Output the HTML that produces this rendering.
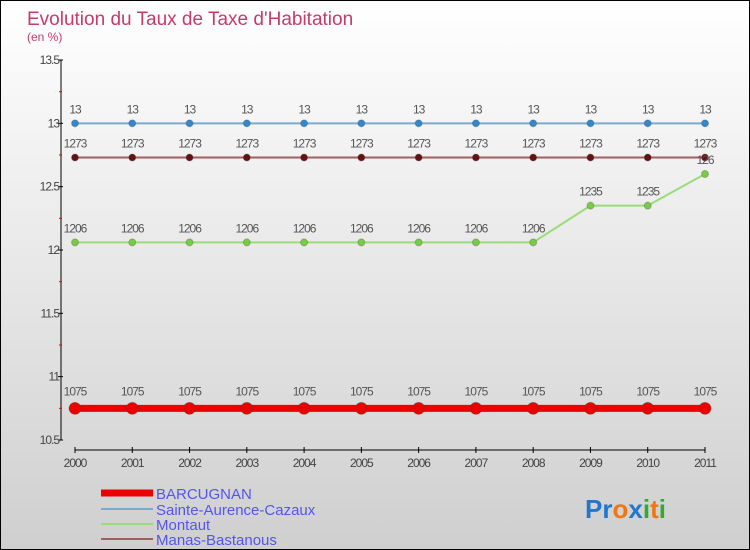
<!DOCTYPE html>
<html><head><meta charset="utf-8"><style>
body{margin:0}
#c{width:748px;height:548px;border:1px solid #000;background:linear-gradient(#ffffff,#cfcfcf);position:relative;overflow:hidden;font-family:"Liberation Sans",sans-serif}
</style></head><body>
<div id="c">
<svg id="s" width="748" height="548" xmlns="http://www.w3.org/2000/svg" style="position:absolute;left:0;top:0">
<text x="26" y="24" font-size="19" fill="#c83a6c">Evolution du Taux de Taxe d'Habitation</text>
<text x="26" y="40" font-size="12" fill="#c83a6c">(en %)</text>
<g id="axes"></g><g id="series"></g>
<g>
<line x1="100" y1="492" x2="152" y2="492" stroke="#ee0000" stroke-width="7"/>
<text x="155" y="498" font-size="15" fill="#5555ee">BARCUGNAN</text>
<line x1="100" y1="508" x2="152" y2="508" stroke="#7aaad0" stroke-width="2"/>
<text x="155" y="514" font-size="15" fill="#5555ee">Sainte-Aurence-Cazaux</text>
<line x1="100" y1="523" x2="152" y2="523" stroke="#99dd77" stroke-width="2"/>
<text x="155" y="529" font-size="15" fill="#5555ee">Montaut</text>
<line x1="100" y1="538" x2="152" y2="538" stroke="#a06060" stroke-width="2"/>
<text x="155" y="544" font-size="15" fill="#5555ee">Manas-Bastanous</text>
</g>
<text x="584" y="517" font-size="26" font-weight="bold"><tspan fill="#2277cc">Pr</tspan><tspan fill="#ee7711">o</tspan><tspan fill="#2277cc">x</tspan><tspan fill="#33aa33">i</tspan><tspan fill="#ee7711">t</tspan><tspan fill="#33aa33">i</tspan></text>
</svg></div>
<script>
const years=["2000","2001","2002","2003","2004","2005","2006","2007","2008","2009","2010","2011"];
const yTicks=[10.5,11,11.5,12,12.5,13,13.5];
const barcugnan=[10.75,10.75,10.75,10.75,10.75,10.75,10.75,10.75,10.75,10.75,10.75,10.75];
const sainte=[13,13,13,13,13,13,13,13,13,13,13,13];
const montaut=[12.06,12.06,12.06,12.06,12.06,12.06,12.06,12.06,12.06,12.35,12.35,12.6];
const manas=[12.73,12.73,12.73,12.73,12.73,12.73,12.73,12.73,12.73,12.73,12.73,12.73];
const NS="http://www.w3.org/2000/svg";
const X=i=>74+i*(630/11);
const Y=v=>59+(13.5-v)*(380/3);
function mk(p,t,a){const e=document.createElementNS(NS,t);for(const k in a)e.setAttribute(k,a[k]);p.appendChild(e);return e;}
const ax=document.getElementById('axes');
let yl=mk(ax,'line',{x1:60,y1:Y(13.5),x2:60,y2:Y(10.5),stroke:'#000'});


yTicks.forEach(v=>{
 mk(ax,'line',{x1:57,y1:Y(v),x2:62,y2:Y(v),stroke:'#000'});
 if(v<13.5)mk(ax,'line',{x1:58,y1:Y(v+0.25),x2:61,y2:Y(v+0.25),stroke:'#e00'});
 const t=mk(ax,'text',{x:58,y:Y(v)+4,'font-size':12,fill:'#444','text-anchor':'end','letter-spacing':'-1'});
 t.textContent=String(v);
 
 
});
let xl=mk(ax,'line',{x1:X(0),y1:449,x2:X(11),y2:449,stroke:'#000'});


years.forEach((y,i)=>{
 mk(ax,'line',{x1:X(i),y1:446,x2:X(i),y2:452,stroke:'#000'});
 const t=mk(ax,'text',{x:X(i),y:466,'font-size':12,fill:'#444','text-anchor':'middle','letter-spacing':'-1'});
 t.textContent=y;
 
 
});
const sg=document.getElementById('series');
function draw(data,name,col,lw,r,dot,lblOff){
 const g=mk(sg,'g',{});
 
 
 mk(g,'polyline',{points:data.map((v,i)=>X(i)+','+Y(v)).join(' '),fill:'none',stroke:col,'stroke-width':lw});
 data.forEach((v,i)=>{
  const c=mk(g,'circle',{cx:X(i),cy:Y(v),r:r,fill:dot,stroke:'#444','stroke-opacity':0.3});
  
  
  const t=mk(g,'text',{x:X(i),y:Y(v)-lblOff,'font-size':12,fill:'#555','text-anchor':'middle','letter-spacing':'-1'});
  t.textContent=String(v).replace('.','');
  
  
 });
}
draw(sainte,'sainte-aurence-cazaux','#7aaad0',2,3.5,'#3388cc',10);
draw(manas,'manas-bastanous','#a06060',2,3.5,'#661111',10);
draw(montaut,'montaut','#99dd77',2,3.5,'#77cc44',10);
draw(barcugnan,'barcugnan','#ee0000',7,6,'#ee0000',13);
</script>
</body></html>
